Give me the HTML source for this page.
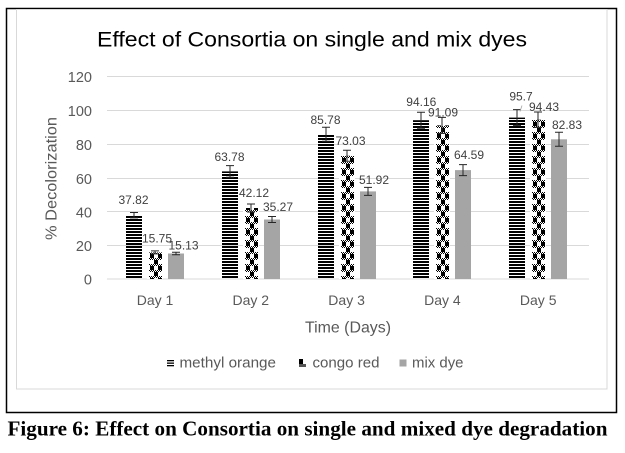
<!DOCTYPE html>
<html><head><meta charset="utf-8"><style>
html,body{margin:0;padding:0;background:#fff;}
svg{display:block;}
</style></head><body>
<svg width="625" height="453" viewBox="0 0 625 453" xmlns="http://www.w3.org/2000/svg" xmlns:xlink="http://www.w3.org/1999/xlink">
<defs>
<pattern id="hz" patternUnits="userSpaceOnUse" x="0" y="0" width="4" height="3">
<rect x="0" y="0" width="4" height="2" fill="#000"/>
</pattern>
<pattern id="ck" patternUnits="userSpaceOnUse" x="0" y="0" width="16" height="12">
<rect width="16" height="12" fill="#fff"/>
<rect x="3" y="2" width="4" height="4" fill="#000"/>
<rect x="11" y="2" width="4" height="4" fill="#000"/>
<rect x="7" y="8" width="4" height="4" fill="#000"/>
<g fill="#000">
<rect x="2" y="0" width="1" height="1"/><rect x="4" y="0" width="1" height="1"/><rect x="6" y="0" width="1" height="1"/><rect x="8" y="0" width="1" height="1"/><rect x="10" y="0" width="1" height="1"/><rect x="12" y="0" width="1" height="1"/><rect x="14" y="0" width="1" height="1"/>
<rect x="3" y="1" width="1" height="1"/><rect x="5" y="1" width="1" height="1"/><rect x="7" y="1" width="1" height="1"/><rect x="9" y="1" width="1" height="1"/><rect x="11" y="1" width="1" height="1"/><rect x="13" y="1" width="1" height="1"/>
<rect x="2" y="6" width="1" height="1"/><rect x="4" y="6" width="1" height="1"/><rect x="6" y="6" width="1" height="1"/><rect x="8" y="6" width="1" height="1"/><rect x="10" y="6" width="1" height="1"/><rect x="12" y="6" width="1" height="1"/><rect x="14" y="6" width="1" height="1"/>
<rect x="3" y="7" width="1" height="1"/><rect x="5" y="7" width="1" height="1"/><rect x="7" y="7" width="1" height="1"/><rect x="9" y="7" width="1" height="1"/><rect x="11" y="7" width="1" height="1"/><rect x="13" y="7" width="1" height="1"/>
</g>
</pattern>
<pattern id="ck1" href="#ck" xlink:href="#ck" x="147" y="0"/>
<pattern id="ck2" href="#ck" xlink:href="#ck" x="243" y="0"/>
<pattern id="ck3" href="#ck" xlink:href="#ck" x="339" y="0"/>
<pattern id="ck4" href="#ck" xlink:href="#ck" x="434" y="0"/>
<pattern id="ck5" href="#ck" xlink:href="#ck" x="530" y="0"/>
</defs>
<rect width="625" height="453" fill="#fff"/>
<!-- outer border -->
<rect x="6.5" y="8.5" width="610" height="404" fill="none" stroke="#000" stroke-width="1.5"/>
<!-- chart area border -->
<rect x="16.5" y="9.5" width="590.5" height="379.5" fill="none" stroke="#d9d9d9" stroke-width="1"/>

<!-- title -->
<text x="97" y="46.5" font-family="Liberation Sans, sans-serif" font-size="21" fill="#000" textLength="430" lengthAdjust="spacingAndGlyphs">Effect of Consortia on single and mix dyes</text>

<!-- gridlines -->
<g stroke="#d9d9d9" stroke-width="1">
<line x1="107" x2="589" y1="76.5" y2="76.5"/>
<line x1="107" x2="589" y1="110.5" y2="110.5"/>
<line x1="107" x2="589" y1="144.5" y2="144.5"/>
<line x1="107" x2="589" y1="178.5" y2="178.5"/>
<line x1="107" x2="589" y1="211.5" y2="211.5"/>
<line x1="107" x2="589" y1="245.5" y2="245.5"/>
<line x1="107" x2="589" y1="279" y2="279"/>
</g>

<!-- y tick labels -->
<g font-family="Liberation Sans, sans-serif" font-size="14.5" fill="#595959" text-anchor="end">
<text x="92" y="82">120</text>
<text x="92" y="116">100</text>
<text x="92" y="150">80</text>
<text x="92" y="184">60</text>
<text x="92" y="217.5">40</text>
<text x="92" y="251">20</text>
<text x="92" y="284.5">0</text>
</g>

<!-- y axis title -->
<text transform="translate(56.5,240) rotate(-90)" font-family="Liberation Sans, sans-serif" font-size="16" fill="#595959" textLength="123" lengthAdjust="spacingAndGlyphs">% Decolorization</text>

<!-- bars: methyl orange -->
<g fill="url(#hz)">
<rect x="126" y="215.2" width="16" height="63.8"/>
<rect x="222" y="171.4" width="16" height="107.6"/>
<rect x="318" y="134.3" width="16" height="144.7"/>
<rect x="413" y="120.2" width="16" height="158.8"/>
<rect x="509" y="117.6" width="16" height="161.4"/>
</g>
<!-- congo red -->
<rect x="147" y="252.4" width="16" height="26.6" fill="url(#ck1)"/>
<rect x="243" y="208" width="16" height="71" fill="url(#ck2)"/>
<rect x="339" y="155.8" width="16" height="123.2" fill="url(#ck3)"/>
<rect x="434" y="125.4" width="16" height="153.6" fill="url(#ck4)"/>
<rect x="530" y="119.7" width="16" height="159.3" fill="url(#ck5)"/>
<!-- mix dye -->
<g fill="#a5a5a5">
<rect x="168" y="253.5" width="16" height="25.5"/>
<rect x="264" y="219.5" width="16" height="59.5"/>
<rect x="360" y="191.4" width="16" height="87.6"/>
<rect x="455" y="170.1" width="16" height="108.9"/>
<rect x="551" y="139.3" width="16" height="139.7"/>
</g>

<!-- error bars -->
<g stroke="#262626" stroke-width="1" fill="none">
<path d="M134 212.5V217.9M130 212.5H138M130 217.9H138"/>
<path d="M155 250.9V253.9M151 250.9H159M151 253.9H159"/>
<path d="M176 252.3V254.7M172 252.3H180M172 254.7H180"/>

<path d="M230 165.6V177.2M226 165.6H234M226 177.2H234"/>
<path d="M251 204V212M247 204H255M247 212H255"/>
<path d="M272 216.5V222.5M268 216.5H276M268 222.5H276"/>

<path d="M326 127.3V141.3M322 127.3H330M322 141.3H330"/>
<path d="M347 150.3V161.3M343 150.3H351M343 161.3H351"/>
<path d="M368 187.4V195.4M364 187.4H372M364 195.4H372"/>

<path d="M421 112.2V128.2M417 112.2H425M417 128.2H425"/>
<path d="M442 117.4V133.4M438 117.4H446M438 133.4H446"/>
<path d="M463 164.6V175.6M459 164.6H467M459 175.6H467"/>

<path d="M517 109.6V125.6M513 109.6H521M513 125.6H521"/>
<path d="M538 112V127.4M534 112H542M534 127.4H542"/>
<path d="M559 132.3V146.3M555 132.3H563M555 146.3H563"/>
</g>
<!-- leader line for 95.7 -->
<line x1="520" y1="111.5" x2="522" y2="105.5" stroke="#a6a6a6" stroke-width="0.8"/>

<!-- value labels -->
<g font-family="Liberation Sans, sans-serif" font-size="12" fill="#404040" text-anchor="middle">
<text x="133.5" y="204">37.82</text>
<text x="157" y="242.5">15.75</text>
<text x="183.5" y="249.5">15.13</text>
<text x="229.5" y="161">63.78</text>
<text x="254" y="197">42.12</text>
<text x="278" y="211">35.27</text>
<text x="325.5" y="124">85.78</text>
<text x="350.5" y="145">73.03</text>
<text x="374" y="184">51.92</text>
<text x="421.3" y="106">94.16</text>
<text x="443" y="116.5">91.09</text>
<text x="469" y="159">64.59</text>
<text x="521" y="100.5">95.7</text>
<text x="544" y="111">94.43</text>
<text x="567" y="129">82.83</text>
</g>

<!-- x labels -->
<g font-family="Liberation Sans, sans-serif" font-size="14" fill="#595959" text-anchor="middle">
<text x="155" y="305">Day 1</text>
<text x="250.8" y="305">Day 2</text>
<text x="346.6" y="305">Day 3</text>
<text x="442.4" y="305">Day 4</text>
<text x="538.2" y="305">Day 5</text>
</g>
<text x="348" y="332.5" font-family="Liberation Sans, sans-serif" font-size="16" fill="#595959" text-anchor="middle" textLength="86" lengthAdjust="spacingAndGlyphs">Time (Days)</text>

<!-- legend -->
<g>
<rect x="167" y="360" width="7" height="1.3" fill="#000"/>
<rect x="167" y="362.5" width="7" height="1.3" fill="#000"/>
<rect x="167" y="365" width="7" height="1.3" fill="#000"/>
<rect x="299" y="359" width="4" height="5" fill="#000"/>
<rect x="299" y="364" width="7" height="3" fill="#555"/>
<rect x="399.5" y="359.5" width="7" height="7" fill="#a5a5a5"/>
</g>
<g font-family="Liberation Sans, sans-serif" font-size="14.5" fill="#595959">
<text x="179.5" y="367.5" textLength="96.5" lengthAdjust="spacingAndGlyphs">methyl orange</text>
<text x="312.5" y="367.5" textLength="67" lengthAdjust="spacingAndGlyphs">congo red</text>
<text x="412" y="367.5" textLength="51.5" lengthAdjust="spacingAndGlyphs">mix dye</text>
</g>

<!-- caption -->
<text x="7.5" y="435.5" font-family="Liberation Serif, serif" font-weight="bold" font-size="21" fill="#000" textLength="600" lengthAdjust="spacingAndGlyphs">Figure 6: Effect on Consortia on single and mixed dye degradation</text>
</svg>
</body></html>
